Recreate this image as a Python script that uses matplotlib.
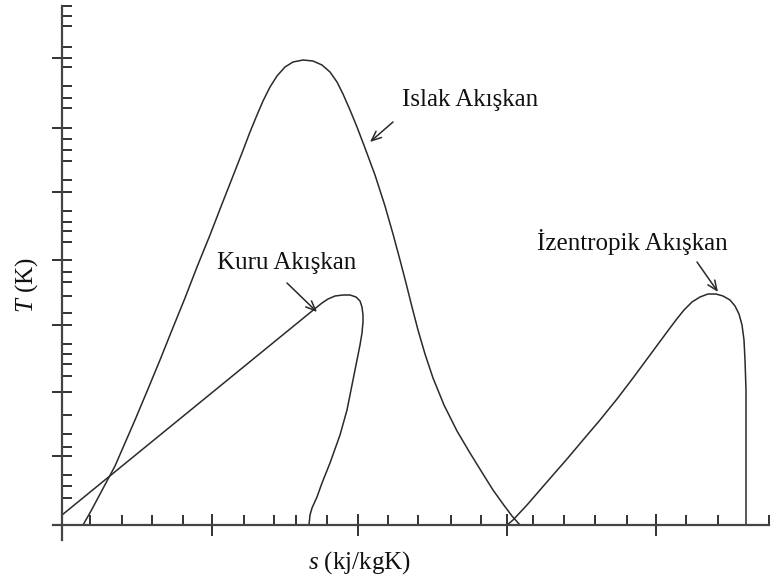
import matplotlib
matplotlib.use("Agg")
import matplotlib.pyplot as plt

plt.rcParams["font.family"] = ["Liberation Serif", "DejaVu Serif"]
plt.rcParams["mathtext.fontset"] = "custom"
plt.rcParams["mathtext.rm"] = "Liberation Serif"
plt.rcParams["mathtext.it"] = "Liberation Serif:italic"

# Saturation domes in the T-s plane (arbitrary units)
wet_s = [0.21, 0.29, 0.37, 0.45, 0.53, 0.63, 0.73, 0.86, 0.98, 1.10, 1.23, 1.35, 1.48,
         1.60, 1.71, 1.80, 1.88, 1.95, 2.01, 2.08, 2.15, 2.23, 2.31, 2.41, 2.51, 2.60,
         2.68, 2.75, 2.81, 2.88, 2.95, 3.03, 3.13, 3.23, 3.31, 3.38, 3.44, 3.50, 3.56,
         3.63, 3.71, 3.82, 3.95, 4.08, 4.21, 4.31, 4.41, 4.50, 4.58]
wet_T = [0.00, 0.14, 0.29, 0.44, 0.59, 0.82, 1.05, 1.36, 1.65, 1.95, 2.27, 2.58, 2.90,
         3.21, 3.49, 3.72, 3.93, 4.10, 4.24, 4.38, 4.49, 4.58, 4.63, 4.65, 4.64, 4.60,
         4.53, 4.43, 4.31, 4.15, 3.98, 3.77, 3.50, 3.19, 2.91, 2.65, 2.42, 2.18, 1.95,
         1.71, 1.47, 1.20, 0.94, 0.72, 0.51, 0.35, 0.21, 0.09, 0.00]

dry_s = [0.00, 2.55, 2.60, 2.66, 2.73, 2.81, 2.88, 2.94, 2.98, 3.00, 3.01, 3.01, 3.00,
         2.98, 2.95, 2.90, 2.85, 2.78, 2.68, 2.60, 2.55, 2.50, 2.48, 2.47]
dry_T = [0.10, 2.18, 2.22, 2.26, 2.29, 2.30, 2.30, 2.28, 2.24, 2.18, 2.10, 2.03, 1.92,
         1.80, 1.65, 1.40, 1.15, 0.90, 0.62, 0.42, 0.28, 0.17, 0.10, 0.00]

isen_s = [4.45, 4.51, 4.65, 4.78, 4.91, 5.05, 5.21, 5.38, 5.55, 5.71, 5.88, 6.05, 6.14,
          6.22, 6.30, 6.38, 6.46, 6.54, 6.61, 6.68, 6.73, 6.77, 6.80, 6.82, 6.83, 6.84,
          6.84, 6.84, 6.84]
isen_T = [0.00, 0.05, 0.20, 0.35, 0.50, 0.66, 0.85, 1.05, 1.26, 1.47, 1.70, 1.93, 2.05,
          2.15, 2.23, 2.28, 2.31, 2.31, 2.29, 2.25, 2.19, 2.11, 2.00, 1.85, 1.65, 1.35,
          0.95, 0.45, 0.00]

# Axis tick positions
x_major = [0.0, 1.50, 2.96, 4.45, 5.94]
x_minor = [0.28, 0.60, 0.90, 1.21, 1.82, 2.12, 2.34, 2.65, 3.26, 3.56, 3.89, 4.19,
           4.71, 5.02, 5.33, 5.65, 6.24, 6.56, 7.07]
y_major = [0.69, 1.33, 2.00, 2.65, 3.33, 3.97, 4.67]
y_minor = [0.27, 0.39, 0.50, 0.78, 0.91, 1.10, 1.49, 1.61, 1.71, 1.81, 2.12, 2.29,
           2.43, 2.53, 2.83, 2.94, 3.03, 3.14, 3.45, 3.64, 3.75, 3.86, 4.17, 4.27,
           4.39, 4.58, 4.78, 4.99, 5.09, 5.19]

# Fluid labels: text, text anchor, arrow tail, arrow head
labels = ["Islak Akışkan", "Kuru Akışkan", "İzentropik Akışkan"]
label_xy = [(3.40, 4.25), (1.55, 2.62), (4.75, 2.83)]
arrow_tail = [(3.31, 4.03), (2.25, 2.42), (6.35, 2.63)]
arrow_head = [(3.08, 3.83), (2.55, 2.13), (6.56, 2.33)]

fig = plt.figure(figsize=(7.71, 5.81), dpi=100)
ax = fig.add_axes([0, 0, 1, 1])
ax.set_xlim(-0.62, 7.09)
ax.set_ylim(-0.56, 5.25)

line_kw = dict(color="#2a2a2a", lw=1.1, solid_joinstyle="round")
ax.plot(wet_s, wet_T, **line_kw)
ax.plot(dry_s, dry_T, **line_kw)
ax.plot(isen_s, isen_T, **line_kw)

for txt, xy, tail, head in zip(labels, label_xy, arrow_tail, arrow_head):
    ax.text(xy[0], xy[1], txt, fontsize=18, ha="left", va="center", color="#111111")
    ax.annotate("", xy=head, xytext=tail,
                arrowprops=dict(arrowstyle="->,head_length=0.7,head_width=0.3",
                                color="#2a2a2a", lw=1.1, shrinkA=0, shrinkB=0))

# Crossing axes through the origin
for side in ("top", "right"):
    ax.spines[side].set_visible(False)
ax.spines["left"].set_position(("data", 0))
ax.spines["bottom"].set_position(("data", 0))
ax.spines["left"].set_bounds(-0.15, 5.19)
ax.spines["bottom"].set_bounds(-0.09, 7.07)
for side in ("left", "bottom"):
    ax.spines[side].set_color("#444444")
    ax.spines[side].set_linewidth(1.6)

ax.set_xticks(x_major)
ax.set_xticks(x_minor, minor=True)
ax.set_yticks(y_major)
ax.set_yticks(y_minor, minor=True)
ax.tick_params(axis="x", which="major", direction="inout", length=16, width=1.3,
               color="#222222", labelbottom=False)
ax.tick_params(axis="x", which="minor", direction="in", length=7, width=1.3,
               color="#222222")
ax.tick_params(axis="y", which="major", direction="inout", length=14, width=1.3,
               color="#222222", labelleft=False)
ax.tick_params(axis="y", which="minor", direction="in", length=7, width=1.3,
               color="#222222")

ax.text(-0.35, 2.40, r"$T$ (K)", rotation=90, fontsize=18, ha="center", va="center",
        color="#111111")
ax.text(2.97, -0.38, r"$s$ (kj/kgK)", fontsize=18, ha="center", va="center",
        color="#111111")

fig.savefig("out.png", dpi=100)
